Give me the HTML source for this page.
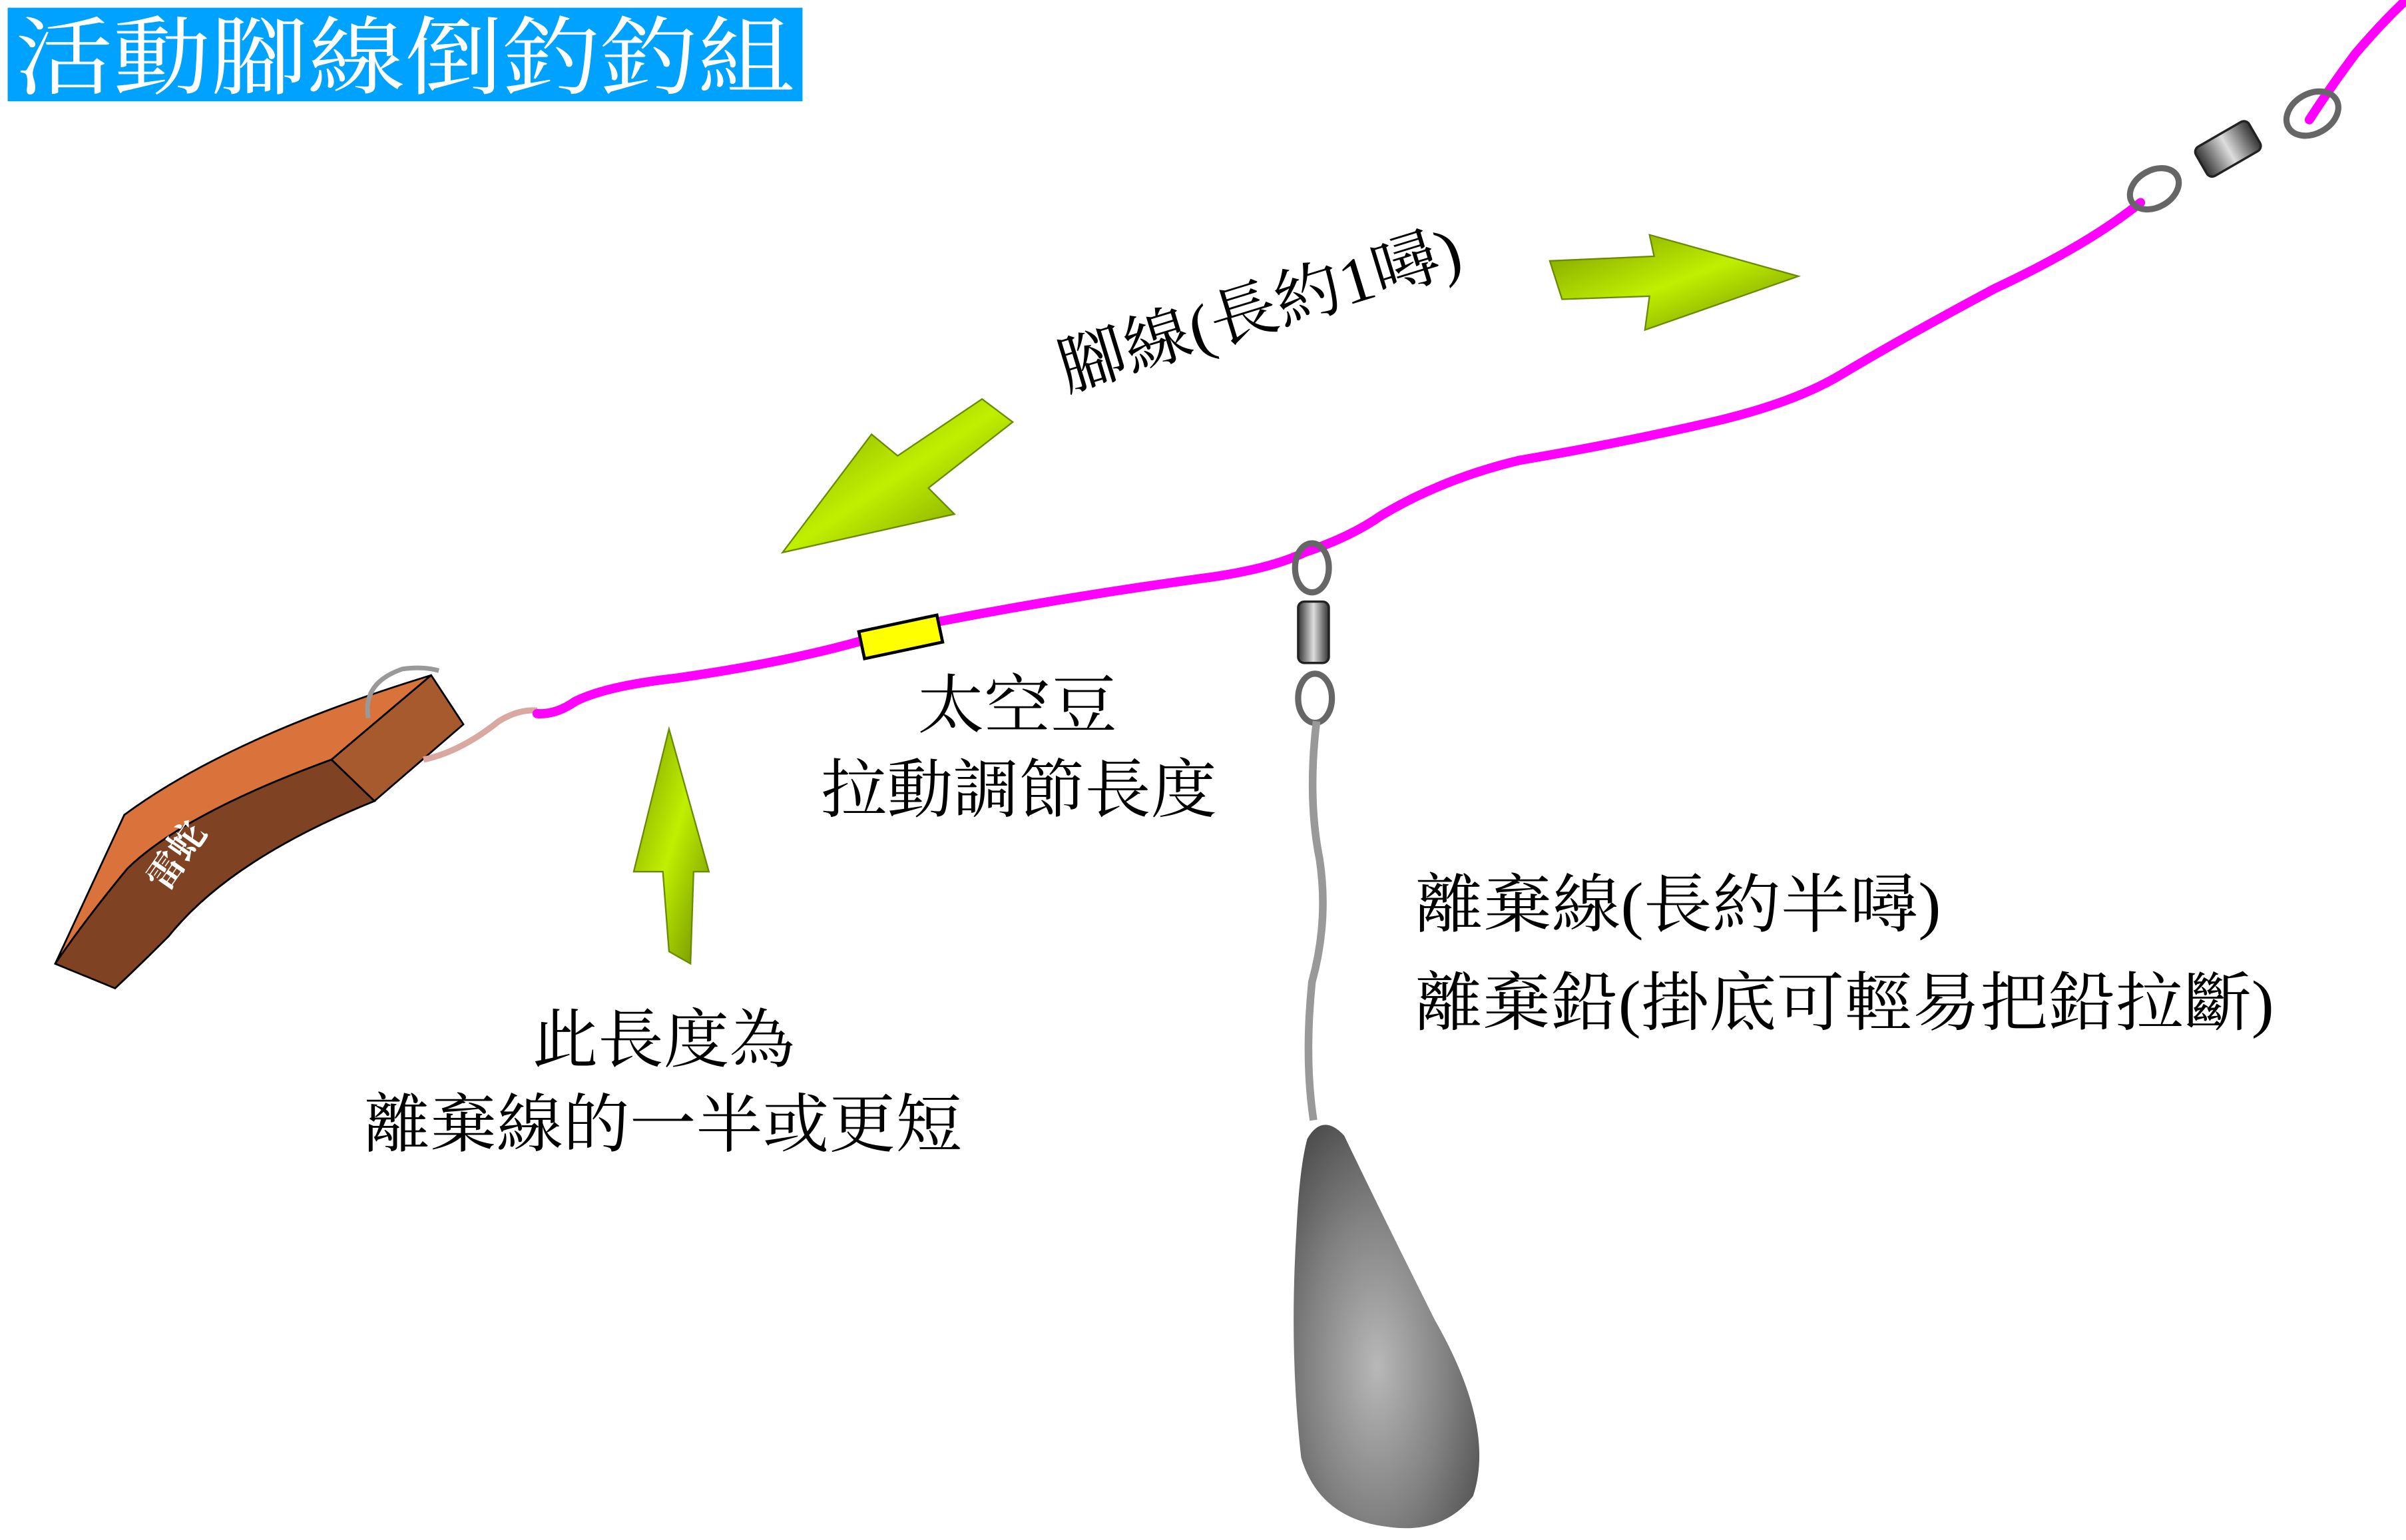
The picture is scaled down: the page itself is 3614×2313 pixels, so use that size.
<!DOCTYPE html>
<html><head><meta charset="utf-8"><style>
html,body{margin:0;padding:0;background:#fff;}
svg{display:block;}
text{font-family:"Liberation Serif","Noto Serif CJK SC","Noto Sans CJK TC",serif;}
</style></head><body>
<svg width="3614" height="2313" viewBox="0 0 1568 1003.5" xmlns="http://www.w3.org/2000/svg">
<defs>
<radialGradient id="sk" cx="0.45" cy="0.6" r="0.7">
<stop offset="0" stop-color="#b8b8b8"/><stop offset="0.55" stop-color="#808080"/><stop offset="1" stop-color="#4a4a4a"/>
</radialGradient>
<linearGradient id="gr" x1="0" y1="0" x2="1" y2="1">
<stop offset="0" stop-color="#7a9a00"/><stop offset="0.5" stop-color="#c0f000"/><stop offset="1" stop-color="#6a8a00"/>
</linearGradient>
<linearGradient id="br" x1="0" y1="0" x2="1" y2="0">
<stop offset="0" stop-color="#333"/><stop offset="0.5" stop-color="#ddd"/><stop offset="1" stop-color="#333"/>
</linearGradient>
</defs>
<!-- title -->
<rect x="5" y="5" width="518" height="61" fill="#00a2ff"/>
<text x="10" y="57" font-size="56" fill="#fff" font-family="'Liberation Sans','Noto Sans CJK TC',sans-serif" textLength="508" lengthAdjust="spacingAndGlyphs">活動腳線倒釣釣組</text>

<!-- lure -->
<path d="M36,628 L81,531 Q150,480 281,440 L216,495 Q120,530 83,566 Q55,600 36,628Z" fill="#d9733b" stroke="#000" stroke-width="1.2"/>
<path d="M216,495 L281,440 L302,472 L244,522Z" fill="#a65a2e" stroke="#000" stroke-width="1.2"/>
<path d="M216,495 L244,522 Q150,560 110,610 Q90,630 75,644 L36,628 Q55,600 83,566 Q120,530 216,495Z" fill="#7f4222" stroke="#000" stroke-width="1.2"/>
<text x="0" y="0" font-size="24" fill="#fff" font-weight="bold" font-family="'Liberation Sans','Noto Sans CJK TC',sans-serif" transform="translate(108,582) rotate(-55)">雷蛇</text>
<path d="M240,468 Q236,445 262,436 Q275,434 286,437" fill="none" stroke="#999" stroke-width="3"/>
<path d="M276,495 Q300,490 325,470 Q338,462 350,463" fill="none" stroke="#d9a8a0" stroke-width="4"/>

<!-- main magenta line -->
<path d="M350,465 Q362,466 375,457 Q395,447 440,442 Q510,432 560,418 M612,405 Q700,388 790,376 Q830,370 850,360 Q880,350 900,336 Q940,312 990,300 Q1060,288 1120,274 Q1170,262 1200,244 Q1240,220 1300,188 Q1360,160 1395,132" fill="none" stroke="#ff00ff" stroke-width="6" stroke-linecap="round"/>
<path d="M1505,78 Q1520,55 1535,35 Q1552,15 1568,0" fill="none" stroke="#ff00ff" stroke-width="6" stroke-linecap="round"/>
<!-- bead -->
<rect x="561" y="406" width="52" height="18" fill="#ffff00" stroke="#000" stroke-width="2" transform="rotate(-12 587 415)"/>

<!-- swivel lower -->
<ellipse cx="855" cy="370" rx="11" ry="16" fill="none" stroke="#666" stroke-width="4"/>
<rect x="846" y="392" width="20" height="40" rx="4" fill="url(#br)" stroke="#222" stroke-width="1.5"/>
<ellipse cx="857" cy="455" rx="11" ry="16" fill="none" stroke="#666" stroke-width="4"/>
<path d="M858,470 Q852,520 860,560 Q866,600 855,640 Q850,690 856,730" fill="none" stroke="#999" stroke-width="5"/>
<!-- sinker -->
<path d="M852,742 Q862,725 876,740 Q900,790 935,860 Q975,930 960,975 Q940,1000 905,995 Q860,990 848,950 Q840,880 845,800 Q847,760 852,742Z" fill="url(#sk)"/>

<!-- swivel upper -->
<ellipse cx="1404" cy="123" rx="17" ry="12" fill="none" stroke="#666" stroke-width="4" transform="rotate(-30 1404 123)"/>
<rect x="1432" y="86" width="40" height="22" rx="4" fill="url(#br)" stroke="#222" stroke-width="1.5" transform="rotate(-30 1452 97)"/>
<ellipse cx="1507" cy="74" rx="18" ry="13" fill="none" stroke="#666" stroke-width="4" transform="rotate(-30 1507 74)"/>

<!-- arrows -->
<path d="M436,475 L462,568 L452,568 L450,628 L436,620 L432,568 L413,568Z" fill="url(#gr)" stroke="#6a8a00" stroke-width="1"/>
<path d="M510,360 L568,283 L585,297 L640,260 L660,275 L605,318 L622,335Z" fill="url(#gr)" stroke="#6a8a00" stroke-width="1"/>
<path d="M1172,180 L1075,153 L1078,167 L1010,170 L1018,195 L1075,193 L1072,215Z" fill="url(#gr)" stroke="#6a8a00" stroke-width="1"/>

<!-- labels -->
<g font-size="42" fill="#000">
<text x="598" y="474" textLength="130" lengthAdjust="spacingAndGlyphs">太空豆</text>
<text x="535" y="529" textLength="258" lengthAdjust="spacingAndGlyphs">拉動調節長度</text>
<text x="347" y="692" textLength="171" lengthAdjust="spacingAndGlyphs">此長度為</text>
<text x="237" y="747" textLength="390" lengthAdjust="spacingAndGlyphs">離棄線的一半或更短</text>
<text x="922" y="604" textLength="343" lengthAdjust="spacingAndGlyphs">離棄線(長約半噚)</text>
<text x="922" y="668" textLength="560" lengthAdjust="spacingAndGlyphs">離棄鉛(掛底可輕易把鉛拉斷)</text>
<text x="0" y="0" transform="translate(695,255) rotate(-17)" textLength="272" lengthAdjust="spacingAndGlyphs">腳線(長約1噚)</text>
</g>
</svg>
</body></html>
